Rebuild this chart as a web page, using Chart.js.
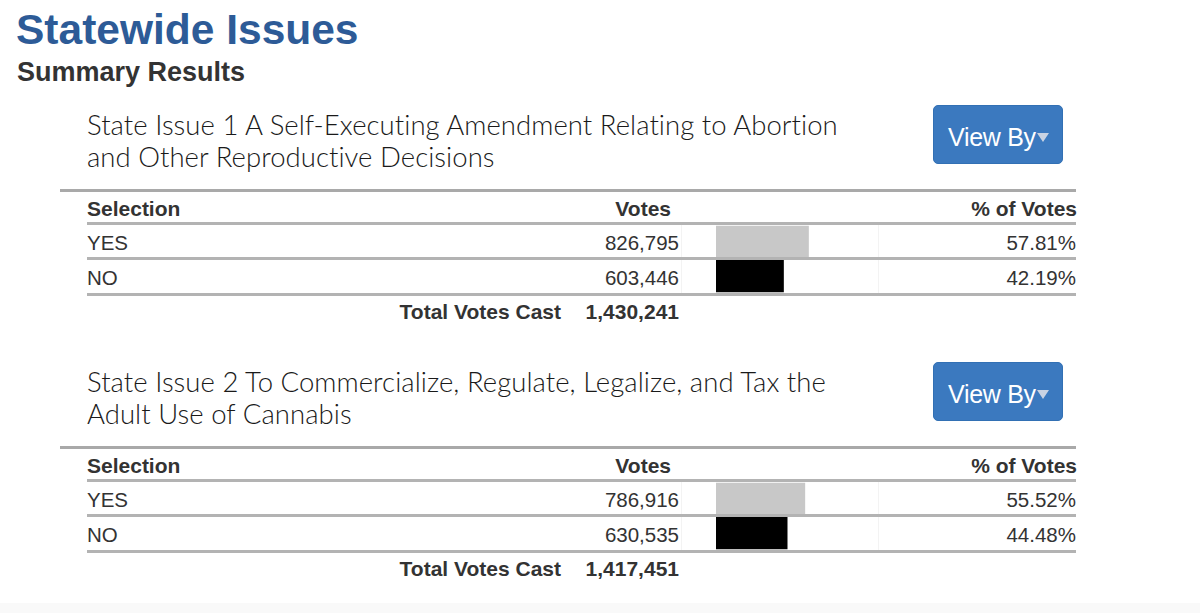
<!DOCTYPE html>
<html>
<head>
<meta charset="utf-8">
<script src="https://cdn.jsdelivr.net/npm/chart.js@4"></script>
<style>
  html, body { margin:0; padding:0; background:#fff; }
  body { width:1200px; height:613px; position:relative; overflow:hidden; font-family:"Liberation Sans", Arial, sans-serif; }
  .t { position:absolute; white-space:nowrap; line-height:1; }
  .rule { position:absolute; background:#b3b3b3; z-index:3; }
  .btn { position:absolute; background:#3b79bf; border:1px solid #3270b4; border-radius:5px; box-sizing:border-box; }
  .cellbox { position:absolute; border-left:1px solid #f3f3f3; border-right:1px solid #f3f3f3; box-sizing:border-box; }
  canvas { position:absolute; z-index:2; }
  .band { position:absolute; left:0; width:1200px; top:603px; height:10px; background:#f9f9f9; }
</style>
</head>
<body>
<div class="band"></div>
<script>
// ---- data ----
const pageTitle = "Statewide Issues";
const pageSubtitle = "Summary Results";
const issueTitleLine1 = ["State Issue 1 A Self-Executing Amendment Relating to Abortion", "State Issue 2 To Commercialize, Regulate, Legalize, and Tax the"];
const issueTitleLine2 = ["and Other Reproductive Decisions", "Adult Use of Cannabis"];
const headers = ["Selection", "Votes", "% of Votes"];
const selections = ["YES", "NO"];
const issue1Votes = [826795, 603446];
const issue1Pct = [57.81, 42.19];
const issue2Votes = [786916, 630535];
const issue2Pct = [55.52, 44.48];
const totalVotes = [1430241, 1417451];
const totalLabel = "Total Votes Cast";
const buttonLabel = "View By";
const barColors = ["#c8c8c8", "#000000"];

const votesByIssue = [issue1Votes, issue2Votes];
const pctByIssue = [issue1Pct, issue2Pct];

function place(text, x, baseline, o) {
  const d = document.createElement('div');
  d.className = 't';
  d.textContent = text;
  const size = o.size;
  const asc = o.asc || 0.846;
  d.style.fontSize = size + 'px';
  d.style.fontWeight = o.weight || 400;
  d.style.color = o.color || '#333';
  if (o.family) d.style.fontFamily = o.family;
  if (o.ls) d.style.letterSpacing = o.ls + 'px';
  d.style.top = (baseline - asc * size) + 'px';
  if (o.align === 'right') d.style.right = (1200 - x) + 'px';
  else d.style.left = x + 'px';
  if (o.z) d.style.zIndex = o.z;
  document.body.appendChild(d);
  return d;
}
function rule(x1, x2, y, h, color) {
  const d = document.createElement('div');
  d.className = 'rule';
  d.style.left = x1 + 'px'; d.style.width = (x2 - x1) + 'px';
  d.style.top = y + 'px'; d.style.height = h + 'px';
  if (color) d.style.background = color;
  document.body.appendChild(d);
}
const fmt = n => n.toLocaleString('en-US');

place(pageTitle, 16, 45, {size:42.5, weight:700, color:'#2d5b97'});
place(pageSubtitle, 17, 82, {size:27, weight:700, color:'#333'});

const lightFamily = '"Lato", "Liberation Sans", sans-serif';

for (let i = 0; i < 2; i++) {
  const off = i * 257;
  place(issueTitleLine1[i], 87, 134 + off, {size:27.5, weight:300, color:'#1a1a1a', family:lightFamily, asc:0.85, ls:0.05});
  place(issueTitleLine2[i], 87, 166 + off, {size:27.5, weight:300, color:'#1a1a1a', family:lightFamily, asc:0.85, ls:0.05});

  // button
  const b = document.createElement('div');
  b.className = 'btn';
  b.style.left = '933px'; b.style.top = (105 + off) + 'px';
  b.style.width = '130px'; b.style.height = '59px';
  document.body.appendChild(b);
  place(buttonLabel, 948, 146 + off, {size:25, weight:400, color:'#ffffff', z:5, ls:-0.3});
  const tri = document.createElement('div');
  tri.style.cssText = 'position:absolute;z-index:5;width:0;height:0;border-left:6px solid transparent;border-right:6px solid transparent;border-top:9px solid #c9d3e3;';
  tri.style.left = '1037px'; tri.style.top = (133 + off) + 'px';
  document.body.appendChild(tri);

  // rules
  rule(60, 1076, 189 + off, 3, '#a9a9a9');
  rule(87, 1076, 222 + off, 3);
  rule(87, 1076, 257 + off, 3);
  rule(87, 1076, 293 + off, 3);

  // faint cell box for bar column
  const cb = document.createElement('div');
  cb.className = 'cellbox';
  cb.style.left = '681px'; cb.style.width = '198px';
  cb.style.top = (225 + off) + 'px'; cb.style.height = '68px';
  document.body.appendChild(cb);

  // header
  place(headers[0], 87, 216 + off, {size:21, weight:700, color:'#333'});
  place(headers[1], 671, 216 + off, {size:21, weight:700, color:'#333', align:'right'});
  place(headers[2], 1077, 216 + off, {size:21, weight:700, color:'#333', align:'right'});

  // rows
  const rowBase = [250, 285];
  for (let r = 0; r < selections.length; r++) {
    place(selections[r], 87, rowBase[r] + off, {size:20.5, color:'#333'});
    place(fmt(votesByIssue[i][r]), 679, rowBase[r] + off, {size:20.5, color:'#333', align:'right'});
    place(pctByIssue[i][r].toFixed(2) + '%', 1076, rowBase[r] + off, {size:20.5, color:'#333', align:'right'});
  }

  // total
  place(totalLabel, 561, 319 + off, {size:21, weight:700, color:'#333', align:'right'});
  place(fmt(totalVotes[i]), 679, 319 + off, {size:21, weight:700, color:'#333', align:'right'});

  // bar chart
  const c = document.createElement('canvas');
  c.width = 160; c.height = 68;
  c.style.left = '716px'; c.style.top = (225 + off) + 'px';
  c.style.width = '160px'; c.style.height = '68px';
  document.body.appendChild(c);
  new Chart(c, {
    type: 'bar',
    data: {
      labels: selections,
      datasets: [{
        data: pctByIssue[i],
        backgroundColor: barColors,
        borderWidth: 0,
        barThickness: 32
      }]
    },
    options: {
      indexAxis: 'y',
      responsive: false,
      animation: false,
      maintainAspectRatio: false,
      layout: { padding: 0 },
      plugins: { legend: { display: false }, tooltip: { enabled: false } },
      scales: {
        x: { min: 0, max: 100, display: false },
        y: { display: false }
      }
    }
  });
}
</script>
</body>
</html>
